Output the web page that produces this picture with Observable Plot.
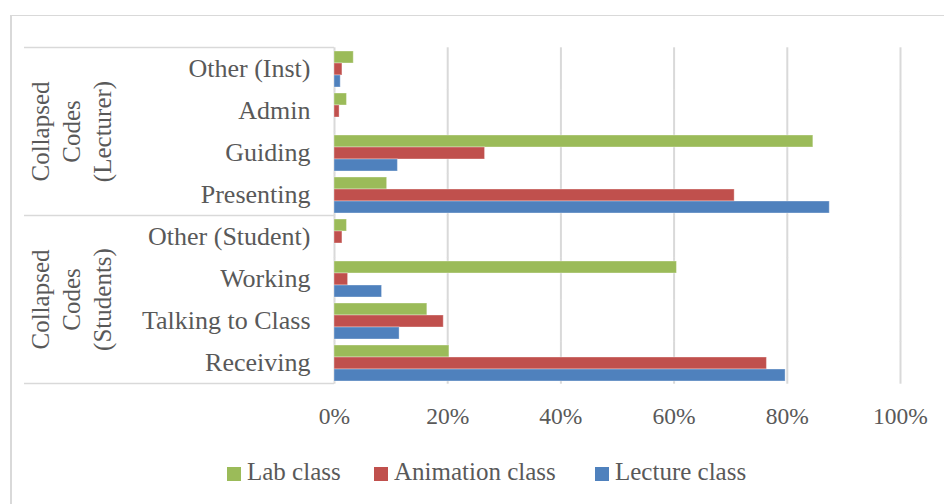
<!DOCTYPE html>
<html><head><meta charset="utf-8">
<script src="https://cdn.jsdelivr.net/npm/d3@7"></script>
<script src="https://cdn.jsdelivr.net/npm/@observablehq/plot@0.6"></script>
<style>
html,body{margin:0;padding:0;background:#fff;}
body{width:944px;height:504px;overflow:hidden;position:relative;font-family:"Liberation Serif","Times New Roman",serif;color:#595959;}
#frame{position:absolute;left:10px;top:15px;width:1000px;height:600px;border-left:2px solid #d9d9d9;border-top:1px solid #d9d9d9;}
#chart{position:absolute;left:0;top:0;}
#legend{position:absolute;left:0;top:459px;width:944px;height:25px;font-size:25px;line-height:25px;}
#legend .item{position:absolute;top:0;display:flex;align-items:center;height:25px;white-space:nowrap;}
#legend .sw{width:14px;height:14px;margin-top:4px;margin-right:6px;}
</style></head><body>
<div id="frame"></div>
<div id="chart"></div>
<div id="legend"></div>
<script>
const categories = ["Other (Inst)","Admin","Guiding","Presenting","Other (Student)","Working","Talking to Class","Receiving"];
const series = ["Lab class","Animation class","Lecture class"];
const colors = ["#9BBB59","#C0504D","#4F81BD"];
const lab       = [3.4, 2.2, 84.6,  9.3, 2.2, 60.5, 16.4, 20.3];
const animation = [1.4, 0.9, 26.6, 70.7, 1.4,  2.4, 19.3, 76.4];
const lecture   = [1.1, 0.0, 11.2, 87.5, 0.0,  8.4, 11.5, 79.7];
const xTicks = [0, 20, 40, 60, 80, 100];
const groupLabels = [["Collapsed","Codes","(Lecturer)"],["Collapsed","Codes","(Students)"]];
const groupMembers = [categories.slice(0,4), categories.slice(4)];

const seriesValues = [lab, animation, lecture];
const rows = categories.flatMap((c,i) => series.map((s,j) => ({category:c, series:s, value:seriesValues[j][i]})));

const font = '"Liberation Serif","Times New Roman",serif';
const plot = Plot.plot({
  width: 944, height: 440,
  marginLeft: 334, marginRight: 44, marginTop: 44, marginBottom: 53,
  style: {fontFamily: font, color: "#595959", background: "transparent", overflow: "visible"},
  x: {domain: [0, 100]},
  fy: {domain: categories, paddingInner: 0.12, paddingOuter: 0.06},
  y: {domain: series, padding: 0, axis: null},
  color: {domain: series, range: colors},
  marks: [
    Plot.ruleX(xTicks, {stroke: "#d9d9d9", strokeWidth: 2, insetTop: -2.7, insetBottom: -2.7}),
    Plot.barX(rows, {fy: "category", y: "series", x: "value", fill: "series", stroke: "#ffffff", strokeOpacity: 0.35, strokeWidth: 1}),
    Plot.axisX({ticks: xTicks, tickFormat: d => d + "%", tickSize: 0, tickPadding: 26, fontSize: 23.5, label: null, fill: "#595959"}),
    Plot.axisFy({anchor: "left", tickSize: 0, tickPadding: 24, fontSize: 26, label: null, fill: "#595959"})
  ]
});
document.getElementById("chart").appendChild(plot);

// category box and group labels, positioned via Plot's own scales
const fy = plot.scale("fy");
const xs = plot.scale("x");
const svg = d3.select(plot);
const gap = fy.step - fy.bandwidth;
const x0 = xs.apply(0);
const bounds = groupMembers.map(m => [fy.apply(m[0]) - gap/2, fy.apply(m[m.length-1]) + fy.bandwidth + gap/2]);
const lineYs = [bounds[0][0], bounds[0][1], bounds[1][1]];
const g = svg.append("g");
g.selectAll("line").data(lineYs).join("line")
  .attr("x1", 24).attr("x2", x0).attr("y1", d => d).attr("y2", d => d)
  .attr("stroke", "#d9d9d9").attr("stroke-width", 1.5);
const baselines = [49, 80, 111];
groupLabels.forEach((lines, gi) => {
  const yc = (bounds[gi][0] + bounds[gi][1]) / 2;
  lines.forEach((t, li) => {
    g.append("text")
      .attr("transform", `translate(${baselines[li]},${yc}) rotate(-90)`)
      .attr("text-anchor", "middle")
      .attr("font-family", font).attr("font-size", 25).attr("fill", "#595959")
      .text(t);
  });
});

// legend
const legendLefts = [227, 374, 595];
const legend = d3.select("#legend");
series.forEach((s, i) => {
  const it = legend.append("div").attr("class", "item").style("left", legendLefts[i] + "px");
  it.append("div").attr("class", "sw").style("background", colors[i]);
  it.append("span").text(s);
});
</script>
</body></html>
